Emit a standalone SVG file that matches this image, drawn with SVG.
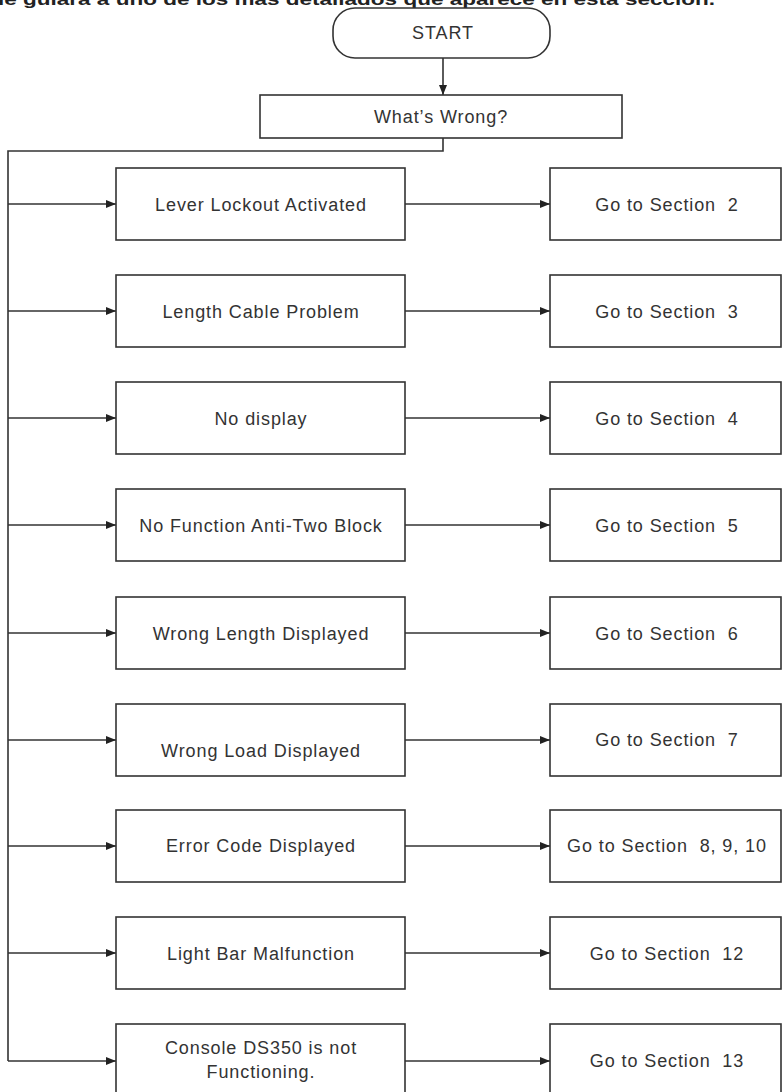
<svg xmlns="http://www.w3.org/2000/svg" width="783" height="1092" viewBox="0 0 783 1092">
<style>
.box{fill:#fff;stroke:#333;stroke-width:1.6}
.t{font-family:"Liberation Sans",Arial,sans-serif;font-size:18px;fill:#333;text-anchor:middle;letter-spacing:0.9px;white-space:pre}
.c{fill:none;stroke:#333;stroke-width:1.6}
</style>
<defs>
<marker id="ah" markerWidth="10" markerHeight="8" refX="10" refY="4" orient="auto" markerUnits="userSpaceOnUse">
<path d="M0,0 L10,4 L0,8 Z" fill="#222"/>
</marker>
</defs>
<rect width="783" height="1092" fill="#fff"/>
<text x="-2" y="5" font-family="Liberation Sans,Arial,sans-serif" font-size="17" font-weight="bold" fill="#222" textLength="717" lengthAdjust="spacingAndGlyphs">le guiará a uno de los más detallados que aparece en esta sección.</text>

<g id="connectors">
<path class="c" d="M443,58 V95" marker-end="url(#ah)"/>
<path class="c" d="M443,138 V151 H8 V1061"/>
<path class="c" d="M8,204 H116" marker-end="url(#ah)"/>
<path class="c" d="M8,311 H116" marker-end="url(#ah)"/>
<path class="c" d="M8,418 H116" marker-end="url(#ah)"/>
<path class="c" d="M8,525 H116" marker-end="url(#ah)"/>
<path class="c" d="M8,633 H116" marker-end="url(#ah)"/>
<path class="c" d="M8,740 H116" marker-end="url(#ah)"/>
<path class="c" d="M8,846 H116" marker-end="url(#ah)"/>
<path class="c" d="M8,953 H116" marker-end="url(#ah)"/>
<path class="c" d="M8,1061 H116" marker-end="url(#ah)"/>
<path class="c" d="M405,204 H550" marker-end="url(#ah)"/>
<path class="c" d="M405,311 H550" marker-end="url(#ah)"/>
<path class="c" d="M405,418 H550" marker-end="url(#ah)"/>
<path class="c" d="M405,525 H550" marker-end="url(#ah)"/>
<path class="c" d="M405,633 H550" marker-end="url(#ah)"/>
<path class="c" d="M405,740 H550" marker-end="url(#ah)"/>
<path class="c" d="M405,846 H550" marker-end="url(#ah)"/>
<path class="c" d="M405,953 H550" marker-end="url(#ah)"/>
<path class="c" d="M405,1061 H550" marker-end="url(#ah)"/>
</g>

<g id="start"><rect class="box" x="333" y="8" width="217" height="50" rx="22" ry="22"/><text class="t" x="443" y="39">START</text></g>
<g id="whats-wrong"><rect class="box" x="260" y="95" width="362" height="43"/><text class="t" x="441" y="123">What’s Wrong?</text></g>

<g id="n1"><rect class="box" x="116" y="168" width="289" height="72"/><text class="t" x="261" y="211">Lever Lockout Activated</text></g>
<g id="n2"><rect class="box" x="116" y="275" width="289" height="72"/><text class="t" x="261" y="318">Length Cable Problem</text></g>
<g id="n3"><rect class="box" x="116" y="382" width="289" height="72"/><text class="t" x="261" y="425">No display</text></g>
<g id="n4"><rect class="box" x="116" y="489" width="289" height="72"/><text class="t" x="261" y="532">No Function Anti-Two Block</text></g>
<g id="n5"><rect class="box" x="116" y="597" width="289" height="72"/><text class="t" x="261" y="640">Wrong Length Displayed</text></g>
<g id="n6"><rect class="box" x="116" y="704" width="289" height="72"/><text class="t" x="261" y="757">Wrong Load Displayed</text></g>
<g id="n7"><rect class="box" x="116" y="810" width="289" height="72"/><text class="t" x="261" y="852">Error Code Displayed</text></g>
<g id="n8"><rect class="box" x="116" y="917" width="289" height="72"/><text class="t" x="261" y="960">Light Bar Malfunction</text></g>
<g id="n9"><rect class="box" x="116" y="1024" width="289" height="80"/><text class="t" x="261" y="1054">Console DS350 is not</text><text class="t" x="261" y="1078">Functioning.</text></g>

<g id="s2"><rect class="box" x="550" y="168" width="231" height="72"/><text class="t" x="667" y="211">Go to Section  2</text></g>
<g id="s3"><rect class="box" x="550" y="275" width="231" height="72"/><text class="t" x="667" y="318">Go to Section  3</text></g>
<g id="s4"><rect class="box" x="550" y="382" width="231" height="72"/><text class="t" x="667" y="425">Go to Section  4</text></g>
<g id="s5"><rect class="box" x="550" y="489" width="231" height="72"/><text class="t" x="667" y="532">Go to Section  5</text></g>
<g id="s6"><rect class="box" x="550" y="597" width="231" height="72"/><text class="t" x="667" y="640">Go to Section  6</text></g>
<g id="s7"><rect class="box" x="550" y="704" width="231" height="72"/><text class="t" x="667" y="746">Go to Section  7</text></g>
<g id="s8"><rect class="box" x="550" y="810" width="231" height="72"/><text class="t" x="667" y="852">Go to Section  8, 9, 10</text></g>
<g id="s12"><rect class="box" x="550" y="917" width="231" height="72"/><text class="t" x="667" y="960">Go to Section  12</text></g>
<g id="s13"><rect class="box" x="550" y="1024" width="231" height="80"/><text class="t" x="667" y="1067">Go to Section  13</text></g>
</svg>
